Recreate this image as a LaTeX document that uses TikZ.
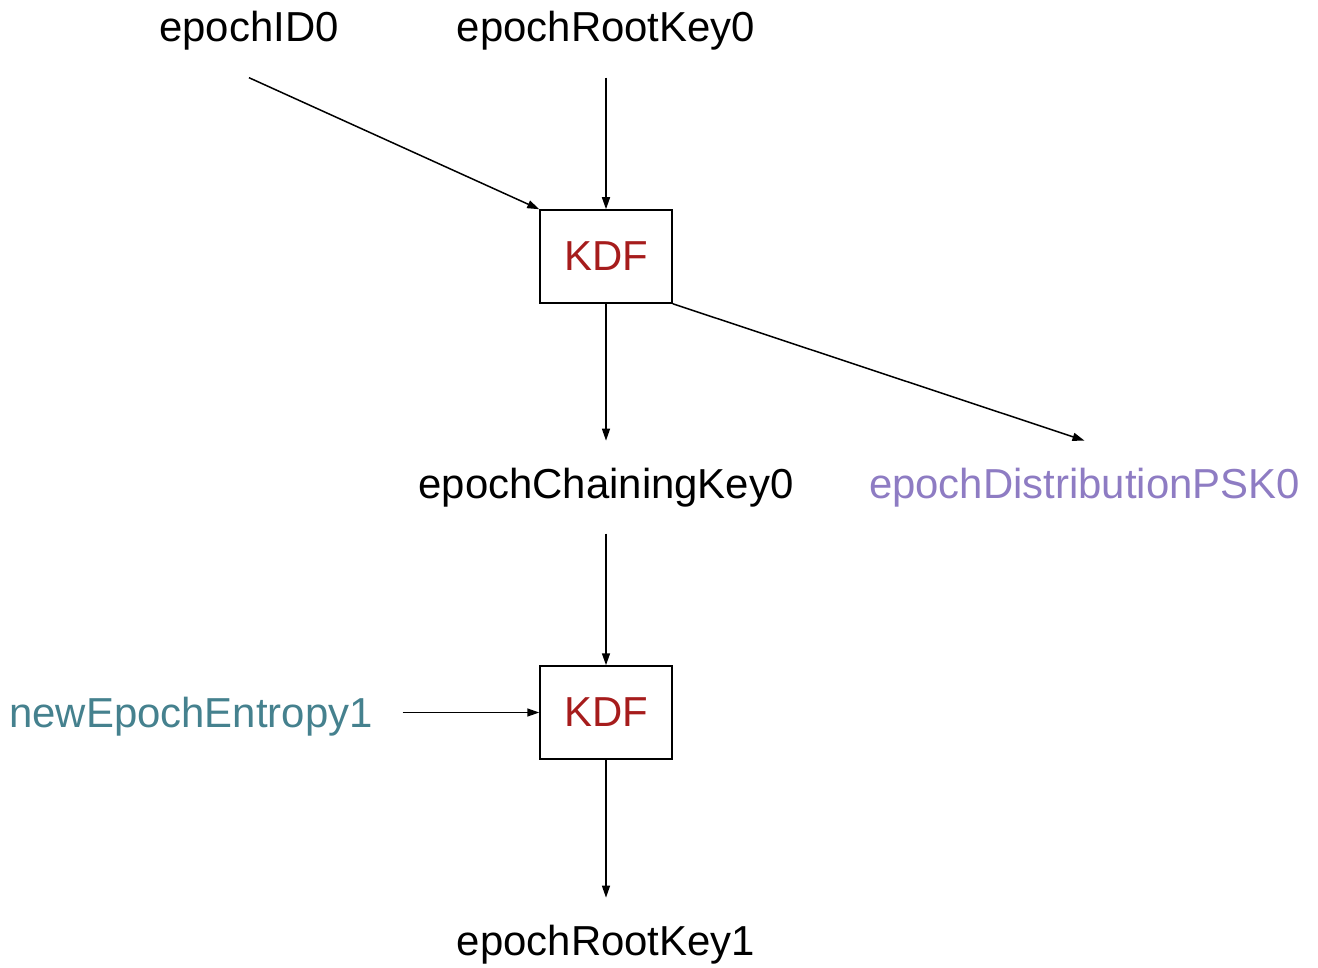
\documentclass[tikz,border=0pt]{standalone}
\usepackage{fontspec}
\setmainfont{Liberation Sans}
\usetikzlibrary{arrows.meta}
\definecolor{kdfred}{HTML}{A61C1C}
\definecolor{pskpurple}{HTML}{8E7CC3}
\definecolor{entteal}{HTML}{45818E}
\tikzset{
  lbl/.style={inner sep=0pt, outer xsep=30pt, outer ysep=27pt, anchor=base,
              font=\fontsize{41.9}{50}\selectfont},
  kdfbox/.style={draw, line width=1.5pt, minimum width=132pt, minimum height=93pt,
                 inner sep=0pt, text=kdfred, font=\fontsize{41.9}{50}\selectfont},
  arr/.style={line width=1.5pt, -{Triangle[length=12pt,width=8pt]}}
}
\begin{document}
\begin{tikzpicture}[x=1pt,y=-1pt]
  \useasboundingbox (0,0) rectangle (1318,968);
  % inputs of the first derivation
  \node[lbl] (id0) at (249,42) {epochID0};
  \node[lbl] (root0) at (606,42) {epochRootKey0};
  \node[kdfbox] (kdf1) at (606,256.5) {KDF};
  % outputs of the first derivation
  \node[lbl] (chain0) at (606,498) {epochChainingKey0};
  \node[lbl, text=pskpurple] (psk0) at (1084.5,498) {epochDistributionPSK0};
  % second derivation
  \node[kdfbox] (kdf2) at (606,712.5) {KDF};
  \node[lbl, text=entteal] (ent1) at (191,727) {newEpochEntropy1};
  \node[lbl] (root1) at (606,955) {epochRootKey1};

  \draw[arr] (id0.south) -- (kdf1.north west);
  \draw[arr] (root0.south) -- (kdf1.north);
  \draw[arr] (kdf1.south) -- (chain0.north);
  \draw[arr] (kdf1.south east) -- (psk0.north);
  \draw[arr] (chain0.south) -- (kdf2.north);
  \draw[arr] (ent1.east |- kdf2.west) -- (kdf2.west);
  \draw[arr] (kdf2.south) -- (root1.north);
\end{tikzpicture}
\end{document}
